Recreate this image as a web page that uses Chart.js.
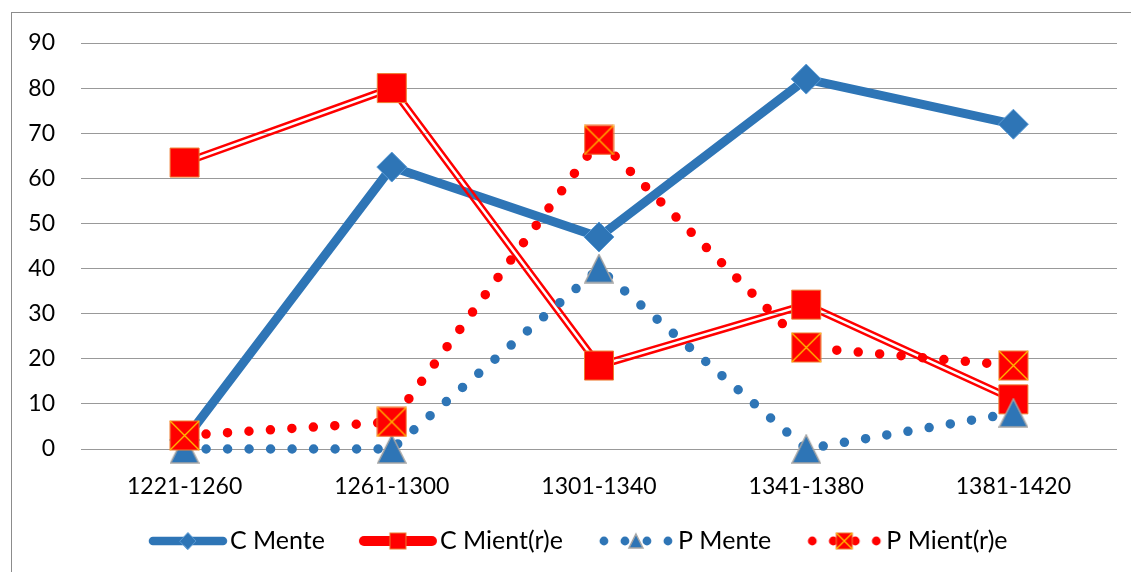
<!DOCTYPE html>
<html><head><meta charset="utf-8">
<script src="https://cdn.jsdelivr.net/npm/chart.js@4/dist/chart.umd.min.js"></script>
<style>
html,body{margin:0;padding:0;background:#fff;overflow:hidden;}
#wrap{position:relative;width:1131px;height:572px;overflow:hidden;}
#frame{position:absolute;left:11px;top:12px;width:2000px;height:2000px;border-left:1px solid #8c8c8c;border-top:1px solid #8c8c8c;pointer-events:none;}
canvas{position:absolute;left:0;top:0;}
</style></head><body>
<div id="wrap"><div id="frame"></div><canvas id="c" width="1131" height="572"></canvas></div>
<script>
// ---- data ----
const categories = ['1221-1260', '1261-1300', '1301-1340', '1341-1380', '1381-1420'];
const seriesNames = ['C Mente', 'C Mient(r)e', 'P Mente', 'P Mient(r)e'];
const cMente   = [2, 62.5, 47, 82, 72];
const cMientre = [63.5, 80, 18.5, 32, 11];
const pMente   = [0, 0, 40, 0, 8];
const pMientre = [3, 6, 68.5, 22.5, 18.5];
const yMin = 0, yMax = 90, yStep = 10;

// ---- styles ----
const BLUE = '#2E75B6', BLUE_EDGE = '#5B9BD5', RED = '#FF0000', ORANGE = '#ED7D31', GOLD = '#FFC000', GREY = '#A5A5A5';
const FONT = 'Lato, "Open Sans", sans-serif';

function mk(w, h, fn) { const c = document.createElement('canvas'); c.width = w; c.height = h; fn(c.getContext('2d'), w, h); return c; }
function tri(ctx, cx, cy, w, h) {
  ctx.beginPath(); ctx.moveTo(cx, cy - h / 2); ctx.lineTo(cx + w / 2, cy + h / 2); ctx.lineTo(cx - w / 2, cy + h / 2); ctx.closePath();
  ctx.fillStyle = BLUE; ctx.fill(); ctx.strokeStyle = GREY; ctx.lineWidth = 1.5; ctx.stroke();
}
function xsq(ctx, cx, cy, s) {
  ctx.fillStyle = RED; ctx.fillRect(cx - s / 2, cy - s / 2, s, s);
  ctx.strokeStyle = ORANGE; ctx.lineWidth = 1; ctx.strokeRect(cx - s / 2, cy - s / 2, s, s);
  ctx.beginPath(); ctx.moveTo(cx - s / 2, cy - s / 2); ctx.lineTo(cx + s / 2, cy + s / 2);
  ctx.moveTo(cx + s / 2, cy - s / 2); ctx.lineTo(cx - s / 2, cy + s / 2);
  ctx.strokeStyle = GOLD; ctx.lineWidth = 1.3; ctx.stroke();
}
const triImg = mk(30, 30, (c) => tri(c, 15, 15, 28, 28));
const xImg = mk(31, 31, (c) => xsq(c, 15.5, 15.5, 29));

// legend icons: 101px wide images, the 80px icon sits in the right part (just left of the text)
const IX = 21;
function dots(c, color) { c.fillStyle = color; [-32, -11, 11, 32].forEach(d => { c.beginPath(); c.arc(IX + 40 + d, 15, 4.4, 0, Math.PI * 2); c.fill(); }); }
const legendIcons = [
  mk(101, 30, (c) => { c.strokeStyle = BLUE; c.lineWidth = 8.5; c.lineCap = 'round'; c.beginPath(); c.moveTo(IX + 5, 15); c.lineTo(IX + 75, 15); c.stroke();
    c.beginPath(); c.moveTo(IX + 32, 15); c.lineTo(IX + 40, 6.5); c.lineTo(IX + 48, 15); c.lineTo(IX + 40, 23.5); c.closePath(); c.fillStyle = BLUE; c.fill(); c.strokeStyle = BLUE_EDGE; c.lineWidth = 1; c.stroke(); }),
  mk(101, 30, (c) => { c.strokeStyle = RED; c.lineWidth = 10; c.lineCap = 'round'; c.beginPath(); c.moveTo(IX + 6, 15); c.lineTo(IX + 74, 15); c.stroke();
    c.fillStyle = RED; c.fillRect(IX + 32, 7, 16, 16); c.strokeStyle = ORANGE; c.lineWidth = 1; c.strokeRect(IX + 32, 7, 16, 16); }),
  mk(101, 30, (c) => { dots(c, BLUE); tri(c, IX + 40, 15, 14, 14); }),
  mk(101, 30, (c) => { dots(c, RED); xsq(c, IX + 40, 15, 16); })
];

// double (compound) line for C Mient(r)e
const doubleLine = {
  id: 'doubleLine',
  beforeDatasetDraw(chart, args) {
    if (args.index !== 1) return;
    const pts = args.meta.data;
    const off = mk(chart.width, chart.height, () => {});
    const o = off.getContext('2d');
    o.lineJoin = 'round';
    const path = () => { o.beginPath(); pts.forEach((p, i) => i ? o.lineTo(p.x, p.y) : o.moveTo(p.x, p.y)); };
    path(); o.strokeStyle = RED; o.lineWidth = 7.5; o.stroke();
    o.globalCompositeOperation = 'destination-out';
    path(); o.lineWidth = 2.5; o.stroke();
    chart.ctx.drawImage(off, 0, 0);
  }
};

new Chart(document.getElementById('c'), {
  type: 'line',
  data: {
    labels: categories,
    datasets: [
      { label: seriesNames[0], data: cMente, borderColor: BLUE, borderWidth: 9, borderJoinStyle: 'round',
        pointStyle: 'rectRot', pointRadius: 15, pointBackgroundColor: BLUE, pointBorderColor: BLUE_EDGE, pointBorderWidth: 1, order: 4, clip: false },
      { label: seriesNames[1], data: cMientre, showLine: false, borderColor: RED,
        pointStyle: 'rect', pointRadius: 20.5, pointBackgroundColor: RED, pointBorderColor: ORANGE, pointBorderWidth: 1, order: 3, clip: false },
      { label: seriesNames[2], data: pMente, borderColor: BLUE, borderWidth: 9.5, borderDash: [0, 21.5], borderCapStyle: 'round',
        pointStyle: triImg, order: 2, clip: false },
      { label: seriesNames[3], data: pMientre, borderColor: RED, borderWidth: 9.5, borderDash: [0, 21.5], borderCapStyle: 'round',
        pointStyle: xImg, order: 1, clip: false }
    ]
  },
  options: {
    responsive: false, animation: false, events: [], devicePixelRatio: 1,
    layout: { autoPadding: false, padding: { left: 28, right: 14, top: 43, bottom: 8.5 } },
    scales: {
      x: {
        offset: true,
        grid: { display: false, drawTicks: false, tickLength: 0 },
        border: { display: false },
        ticks: { color: '#000', font: { family: FONT, size: 23 }, padding: 24, maxRotation: 0 },
        afterFit: (s) => { s.height = 57; s.paddingLeft = 0; s.paddingRight = 0; }
      },
      y: {
        min: yMin, max: yMax,
        grid: { color: '#999', lineWidth: 1, drawTicks: false, tickLength: 0 },
        border: { display: false },
        ticks: { stepSize: yStep, color: '#000', font: { family: FONT, size: 23 }, padding: 26 },
        afterFit: (s) => { s.width = 53; }
      }
    },
    plugins: {
      tooltip: { enabled: false },
      legend: {
        position: 'bottom',
        labels: {
          usePointStyle: true, pointStyleWidth: 80, padding: 22.5, color: '#000',
          font: { family: FONT, size: 25 },
          generateLabels: (chart) => seriesNames.map((n, i) => ({
            text: n, pointStyle: legendIcons[i], fillStyle: 'rgba(0,0,0,0)', strokeStyle: 'rgba(0,0,0,0)',
            lineWidth: 0, hidden: false, datasetIndex: i, fontColor: '#000'
          }))
        }
      }
    }
  },
  plugins: [doubleLine]
});
</script>
</body></html>
